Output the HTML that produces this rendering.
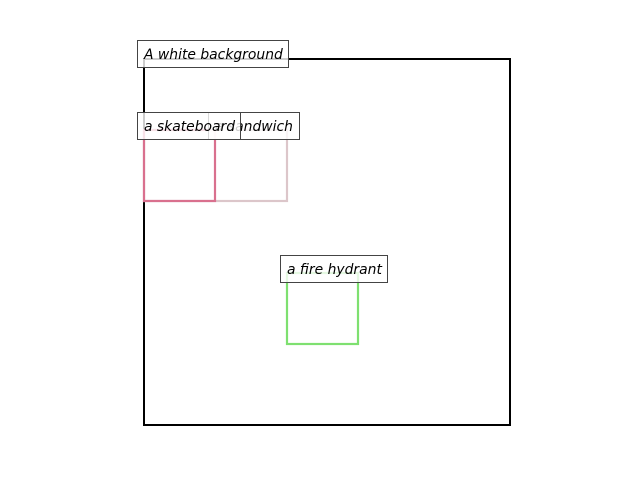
<!DOCTYPE html>
<html><head><style>html,body{margin:0;padding:0;background:#fff;width:640px;height:480px;overflow:hidden}</style></head>
<body>
<svg width="640" height="480" xmlns="http://www.w3.org/2000/svg" style="display:block">
<rect x="0" y="0" width="640" height="480" fill="#fff"/>
<rect x="144" y="59" width="366" height="366" fill="none" stroke="#000" stroke-width="2"/>
<rect x="144" y="130" width="143" height="71" fill="none" stroke="#dcc6ca" stroke-width="2.2"/>
<rect x="144" y="130" width="71" height="71" fill="none" stroke="#d9708e" stroke-width="2.2"/>
<rect x="287" y="273" width="71" height="71" fill="none" stroke="#7ee070" stroke-width="2.2"/>
<g font-family="'DejaVu Sans','Liberation Sans',sans-serif" font-style="italic" font-size="13.9" fill="#000">
<rect x="137.5" y="40.5" width="151" height="27" fill="#fff" fill-opacity="0.8" stroke="#444"/>
<text x="144" y="59">A white background</text>
<rect x="208.5" y="112.5" width="91" height="27" fill="#fff" fill-opacity="0.8" stroke="#444"/>
<text x="215" y="131">a sandwich</text>
<rect x="137.5" y="112.5" width="103" height="27" fill="#fff" fill-opacity="0.8" stroke="#444"/>
<text x="144" y="131">a skateboard</text>
<rect x="280.5" y="255.5" width="107" height="27" fill="#fff" fill-opacity="0.8" stroke="#444"/>
<text x="287" y="274">a fire hydrant</text>
</g>
</svg>
</body></html>
